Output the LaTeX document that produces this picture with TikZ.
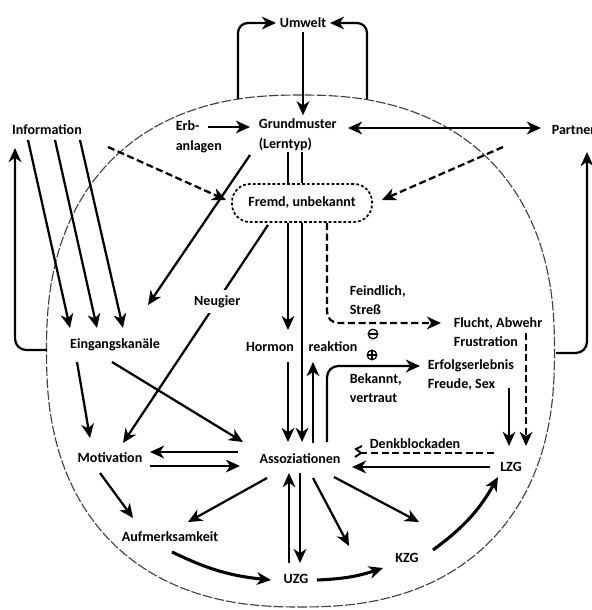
\documentclass[tikz,border=0pt]{standalone}
\usepackage{fontspec}
\setmainfont{Carlito}
\usetikzlibrary{arrows.meta,calc}

\tikzset{
  lbl/.style={font=\bfseries\fontsize{10}{14}\selectfont, inner sep=2.5pt},
  ln/.style={line width=1.6pt},
  arr/.style={ln, ->},
  darr/.style={arr, dash pattern=on 5pt off 2.5pt},
  barr/.style={arr, line width=2.2pt},
  fremdbox/.style={lbl, draw, fill=white, line width=1.2pt, dash pattern=on 2pt off 1.5pt,
    rounded corners=0.45cm, minimum width=3.5cm, minimum height=0.95cm},
  sym/.style={draw, circle, line width=0.9pt, minimum size=0.24cm, inner sep=0pt},
  circ/.style={line width=0.8pt, black!75, dash pattern=on 7pt off 1.5pt}
}

\begin{document}
\begin{tikzpicture}[x=0.025cm, y=-0.025cm, >={Stealth[length=10pt,width=9pt,inset=3pt]}]
	\useasboundingbox (0,0) rectangle (591,610);
	% boundary
	\draw[circ] plot[domain=0.5:357.5, samples=120, smooth cycle, variable=\x]
		({300.5+254*cos(\x)/abs(cos(\x))*exp(0.85*ln(abs(cos(\x))))},
		 {351+256*sin(\x)/abs(sin(\x))*exp(0.85*ln(abs(sin(\x))))});
	\coordinate (ul) at (238,99);
	\coordinate (ur) at (367,99);
	\coordinate (cl) at (47,350);
	\coordinate (cr) at (556,353);

	% nodes
	\node[lbl] (umwelt) at (303,23) {Umwelt};
	\node[lbl] (info) at (47,130) {Information};
	\node[lbl, align=left, anchor=west] (erb) at (172,137) {Erb-\\anlagen};
	\node[lbl, align=left, anchor=west] (grund) at (255,135) {Grundmuster\\(Lerntyp)};
	\node[lbl, anchor=west] (partner) at (548,130) {Partner};
	\node[fremdbox] (fremd) at (302,203) {Fremd, unbekannt};
	\node[lbl, align=left, anchor=west] (feind) at (346,300) {Feindlich,\\Streß};
	\node[lbl, align=left, anchor=west] (flucht) at (450,332) {Flucht, Abwehr\\Frustration};
	\node[lbl] (eing) at (115,345) {Eingangskanäle};
	\node[lbl] (hormon) at (270,347) {Hormon};
	\node[lbl] (reakt) at (333,347) {reaktion};
	\node[sym] (minus) at (373,334) {};
	\node[sym] (plus) at (372,355) {};
	\node[lbl, align=left, anchor=west] (erfolg) at (424,375) {Erfolgserlebnis\\Freude, Sex};
	\node[lbl, align=left, anchor=west] (bekannt) at (346,388) {Bekannt,\\vertraut};
	\node[lbl] (mot) at (110,458) {Motivation};
	\node[lbl] (assoz) at (300,459) {Assoziationen};
	\node[lbl] (denk) at (415,444) {Denkblockaden};
	\node[lbl] (lzg) at (511,467) {LZG};
	\node[lbl] (aufm) at (170,537) {Aufmerksamkeit};
	\node[lbl] (uzg) at (296,579) {UZG};
	\node[lbl] (kzg) at (407,558) {KZG};
	\draw[line width=0.9pt] (minus.west) -- (minus.east);
	\draw[line width=0.9pt] (plus.west) -- (plus.east) (plus.north) -- (plus.south);

	% Umwelt, Partner, Information
	\draw[arr, rounded corners=7pt] (ul) |- (umwelt.west);
	\draw[arr, rounded corners=7pt] (ur) |- (umwelt.east);
	\draw[arr] (umwelt.south) -- (umwelt.south |- grund.north);
	\draw[arr] ($(erb.west)+(36,-10)$) -- ($(grund.west)+(-5,-8)$);
	\draw[arr, <->] ($(grund.west)+(93,-7)$) -- ($(partner.west)+(-7,-2)$);
	\draw[arr, rounded corners=8pt] (cl) -| ($(info)+(-32,18)$);
	\draw[arr, rounded corners=8pt] (cr) -| ($(partner.west)+(39,22)$);
	\foreach \a/\b in {-19/-45, 8/-18, 33/8}{
		\draw[arr] ($(info)+(\a,10)$) -- ($(eing)+(\b,-17)$);
	}
	\draw[darr] ($(info)+(61,17)$) -- ($(fremd.west)+(-5,-3)$);
	\draw[darr] ($(partner.west)+(-45,17)$) -- ($(fremd.east)+(9,-3)$);

	% Grundmuster, Fremd
	\draw[arr] ($(grund.west)+(-5,20)$) -- ($(eing)+(33,-40)$);
	\draw[arr] ($(fremd)+(-34,22)$) -- node[lbl, pos=0.35, fill=white, inner sep=4pt] (neugier) {Neugier} ($(mot)+(13,-15)$);
	\draw[ln] ($(grund.west)+(33,17)$) coordinate (g1) -- (g1 |- fremd.north);
	\draw[arr] (g1 |- fremd.south) -- ($(hormon)+(18,-17)$);
	\draw[ln] ($(grund.west)+(47,17)$) coordinate (g2) -- (g2 |- fremd.north);
	\draw[arr] (g2 |- fremd.south) -- ($(assoz)+(2,-17)$);
	\draw[arr] ($(hormon)+(18,15)$) -- ($(assoz)+(-12,-17)$);
	\draw[arr] ($(assoz)+(13,-16)$) -- ($(reakt)+(-20,15)$);
	\draw[arr, rounded corners=8pt] ($(assoz)+(27,-17)$) |- ($(erfolg.west)+(-4,-9)$);
	\draw[darr, rounded corners=8pt] ($(fremd)+(25,20)$) |- ($(flucht.west)+(-9,-9)$);

	% LZG
	\draw[darr] ($(flucht.west)+(76,1)$) -- ($(lzg)+(15,-21)$);
	\draw[arr] ($(erfolg.west)+(85,13)$) -- ($(lzg)+(-2,-21)$);
	\draw[arr] ($(lzg)+(-21,0)$) -- ($(assoz)+(52,8)$);
	\draw[ln, dash pattern=on 5pt off 2.5pt] ($(lzg)+(-17,-14)$) -- ($(assoz)+(62,-6)$) coordinate (zz);
	\draw[line width=1.3pt] ($(zz)+(0,-7)$) -- ++(-6,3) -- ++(5,4) -- ++(-6,4);

	% Motivation, Aufmerksamkeit
	\draw[arr] ($(assoz)+(-62,-7)$) -- ($(mot)+(40,-6)$);
	\draw[arr] ($(mot)+(40,8)$) -- ($(assoz)+(-60,7)$);
	\draw[arr] ($(eing)+(-38,17)$) -- ($(mot)+(-20,-20)$);
	\draw[arr] ($(eing)+(-3,17)$) -- ($(assoz)+(-57,-17)$);
	\draw[arr] ($(mot)+(-10,15)$) -- ($(aufm)+(-37,-19)$);
	\draw[arr] ($(assoz)+(-33,19)$) -- ($(aufm)+(18,-15)$);

	% Gedaechtnis
	\draw[barr] ($(aufm)+(2,15)$) to[bend right=10] ($(uzg)+(-25,1)$);
	\draw[arr] ($(uzg)+(-7,-16)$) -- ($(assoz)+(-11,14)$);
	\draw[arr] ($(assoz)+(0,14)$) -- ($(uzg)+(4,-16)$);
	\draw[arr] ($(assoz)+(13,19)$) -- ($(kzg)+(-58,-12)$);
	\draw[arr] ($(assoz)+(34,18)$) -- ($(kzg)+(12,-36)$);
	\draw[barr] ($(uzg)+(21,1)$) to[bend right=8] ($(kzg)+(-24,10)$);
	\draw[barr] ($(kzg)+(26,-8)$) to[bend right=12] ($(lzg)+(-13,10)$);
\end{tikzpicture}
\end{document}
